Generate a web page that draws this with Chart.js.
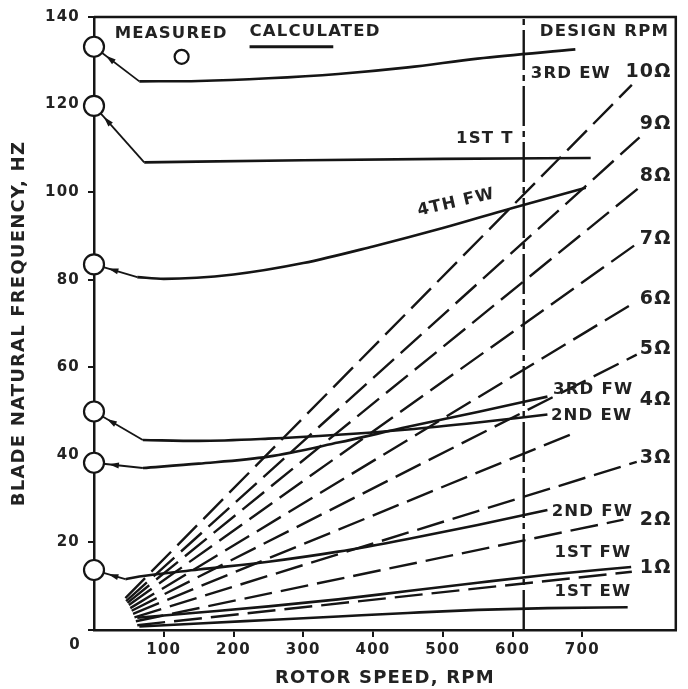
<!DOCTYPE html>
<html>
<head>
<meta charset="utf-8">
<script src="https://cdn.jsdelivr.net/npm/chart.js@4.4.1/dist/chart.umd.min.js"></script>
<style>
  html, body { margin: 0; padding: 0; background: #fff; }
</style>
</head>
<body>
<canvas id="grafico" width="688" height="689"></canvas>
<script>
// frequencias medidas (circulos em rpm 0)
const measuredHz = [133.2, 119.7, 83.5, 49.9, 38.2, 13.7];

// modos calculados
const rpm3rdEW = [65, 150, 250, 350, 450, 550, 690];
const hz3rdEW  = [125.3, 125.4, 126.0, 127.0, 128.5, 130.5, 132.6];
const rpm1stT  = [72, 300, 500, 712];
const hz1stT   = [106.8, 107.3, 107.6, 107.8];
const rpm4thFW = [62, 100, 200, 300, 400, 500, 600, 705];
const hz4thFW  = [80.6, 80.2, 81.2, 83.8, 87.6, 91.8, 96.4, 101.0];
const rpm2ndEW = [70, 150, 250, 350, 450, 550, 650];
const hz2ndEW  = [43.4, 43.2, 43.7, 44.6, 45.8, 47.4, 49.2];
const rpm3rdFW = [70, 150, 250, 350, 450, 550, 650];
const hz3rdFW  = [37.0, 38.0, 39.6, 42.8, 46.4, 49.8, 53.3];
const rpm2ndFW = [45, 65, 150, 250, 350, 450, 550, 650];
const hz2ndFW  = [11.6, 12.2, 13.8, 15.6, 17.9, 20.8, 24.0, 27.4];
const rpm1stFW = [62, 150, 250, 350, 450, 550, 650, 770];
const hz1stFW  = [2.8, 4.0, 5.4, 7.0, 8.9, 10.8, 12.6, 14.4];
const rpm1stEW = [65, 150, 250, 350, 450, 550, 650, 765];
const hz1stEW  = [0.8, 1.5, 2.3, 3.1, 3.9, 4.6, 5.0, 5.2];

// linhas por rotacao (10 ate 1 omega)
const orderLabels   = ['10Ω', '9Ω', '8Ω', '7Ω', '6Ω', '5Ω', '4Ω', '3Ω', '2Ω', '1Ω'];
const orderStartRpm = [45, 46, 48, 50, 52, 54, 56, 58, 60, 62];
const orderStartHz  = [7.3, 6.6, 6.2, 5.7, 5.0, 4.4, 3.7, 2.9, 2.0, 1.1];
const orderEndRpm   = [771, 782, 782, 777, 777, 778, 690, 778, 759, 771];
const orderEndHz    = [124.5, 112.5, 101.1, 88.1, 75.0, 62.9, 45.1, 38.4, 25.2, 13.3];
const orderLabelHz  = [127.4, 115.5, 103.6, 89.2, 75.5, 64.1, 52.6, 39.3, 25.2, 14.2];

const designRpm = 616;

// rotulos dos modos
const modeLabels   = ['3RD EW', '1ST T', '4TH FW', '3RD FW', '2ND EW', '2ND FW', '1ST FW', '1ST EW'];
const modeLabelRpm = [626, 519, 464, 658, 655, 656, 660, 660];
const modeLabelHz  = [127.0, 112.1, 95.6, 54.9, 49.0, 27.0, 17.6, 8.7];
const modeLabelRot = [0, 0, -13, 0, 0, 0, 0, 0];

const xTicks = [100, 200, 300, 400, 500, 600, 700];

const ink = '#151515';
const txt = '#222';
const fonte = 'DejaVu Sans';

function pontos(rpm, hz) {
    return rpm.map((r, i) => ({ x: r, y: hz[i] }));
}

const modos = [
    [rpm3rdEW, hz3rdEW],
    [rpm1stT, hz1stT],
    [rpm4thFW, hz4thFW],
    [rpm2ndEW, hz2ndEW],
    [rpm3rdFW, hz3rdFW],
    [rpm2ndFW, hz2ndFW],
    [rpm1stFW, hz1stFW],
    [rpm1stEW, hz1stEW]
];
// qual modo cada circulo medido aponta
const measuredToMode = [0, 1, 2, 3, 4, 5];

const datasets = [];

// circulos medidos (por cima de tudo)
datasets.push({
    data: measuredHz.map(h => ({ x: 0, y: h })),
    showLine: false,
    pointRadius: 10,
    pointBorderWidth: 2.2,
    pointBackgroundColor: '#fff',
    pointBorderColor: ink,
    clip: false
});

// curvas calculadas
modos.forEach(([r, h]) => {
    datasets.push({
        data: pontos(r, h),
        showLine: true,
        borderColor: ink,
        borderWidth: 2.6,
        pointRadius: 0,
        cubicInterpolationMode: 'monotone'
    });
});

// linhas de chamada dos circulos ate as curvas
measuredHz.forEach((h, i) => {
    const [r, hz] = modos[measuredToMode[i]];
    datasets.push({
        data: [{ x: 0, y: h }, { x: r[0], y: hz[0] }],
        showLine: true,
        borderColor: ink,
        borderWidth: 1.8,
        pointRadius: 0,
        clip: false
    });
});

// linhas tracejadas n-omega
orderLabels.forEach((lab, i) => {
    datasets.push({
        data: [{ x: orderStartRpm[i], y: orderStartHz[i] }, { x: orderEndRpm[i], y: orderEndHz[i] }],
        showLine: true,
        borderColor: ink,
        borderWidth: 2.4,
        borderDash: [28, 9],
        pointRadius: 0
    });
});

// rpm de projeto
datasets.push({
    data: [{ x: designRpm, y: 0 }, { x: designRpm, y: 140 }],
    showLine: true,
    borderColor: ink,
    borderWidth: 2.4,
    borderDash: [40, 5, 6, 5],
    pointRadius: 0
});

const textosPlugin = {
    id: 'textos',
    beforeDraw(chart) {
        chart.ctx.letterSpacing = '1.2px';
    },
    afterDatasetsDraw(chart) {
        // pontas de seta nas linhas de chamada
        const { ctx, scales: { x, y } } = chart;
        ctx.save();
        ctx.fillStyle = ink;
        measuredHz.forEach((h, i) => {
            const [r, hz] = modos[measuredToMode[i]];
            const x0 = x.getPixelForValue(0), y0 = y.getPixelForValue(h);
            const x1 = x.getPixelForValue(r[0]), y1 = y.getPixelForValue(hz[0]);
            const len = Math.hypot(x1 - x0, y1 - y0);
            const ux = (x1 - x0) / len, uy = (y1 - y0) / len;
            const tx = x0 + ux * 15, ty = y0 + uy * 15;
            const bx = x0 + ux * 25, by = y0 + uy * 25;
            ctx.beginPath();
            ctx.moveTo(tx, ty);
            ctx.lineTo(bx - uy * 3, by + ux * 3);
            ctx.lineTo(bx + uy * 3, by - ux * 3);
            ctx.closePath();
            ctx.fill();
        });
        ctx.restore();
    },
    afterDraw(chart) {
        const { ctx, chartArea, scales: { x, y } } = chart;
        ctx.save();
        ctx.letterSpacing = '1.2px';
        ctx.strokeStyle = ink;
        ctx.lineWidth = 2.5;
        // moldura de cima e direita
        ctx.beginPath();
        ctx.moveTo(chartArea.left, chartArea.top);
        ctx.lineTo(chartArea.right, chartArea.top);
        ctx.lineTo(chartArea.right, chartArea.bottom);
        ctx.stroke();

        ctx.fillStyle = txt;
        ctx.textBaseline = 'middle';

        // legenda
        ctx.font = 'bold 16.5px "' + fonte + '"';
        ctx.textAlign = 'left';
        ctx.fillText('MEASURED', x.getPixelForValue(29.6), y.getPixelForValue(136.1));
        ctx.fillText('CALCULATED', x.getPixelForValue(223), y.getPixelForValue(136.6));
        ctx.lineWidth = 3;
        ctx.beginPath();
        ctx.moveTo(x.getPixelForValue(223), y.getPixelForValue(133.2));
        ctx.lineTo(x.getPixelForValue(343), y.getPixelForValue(133.2));
        ctx.stroke();
        ctx.lineWidth = 2.2;
        ctx.beginPath();
        ctx.arc(x.getPixelForValue(125.6), y.getPixelForValue(130.9), 7, 0, Math.PI * 2);
        ctx.stroke();

        ctx.fillText('DESIGN RPM', x.getPixelForValue(639), y.getPixelForValue(136.6));

        // rotulos dos modos
        modeLabels.forEach((t, i) => {
            ctx.save();
            ctx.translate(x.getPixelForValue(modeLabelRpm[i]), y.getPixelForValue(modeLabelHz[i]));
            ctx.rotate(modeLabelRot[i] * Math.PI / 180);
            ctx.fillText(t, 0, 0);
            ctx.restore();
        });

        // rotulos n-omega
        ctx.font = 'bold 19px "' + fonte + '"';
        ctx.textAlign = 'right';
        orderLabels.forEach((t, i) => {
            ctx.fillText(t, x.getPixelForValue(828), y.getPixelForValue(orderLabelHz[i]));
        });

        // zero da origem
        ctx.font = 'bold 15px "' + fonte + '"';
        ctx.textAlign = 'center';
        ctx.fillText('0', x.left - 19, y.bottom + 15);
        ctx.restore();
    }
};

new Chart(document.getElementById('grafico').getContext('2d'), {
    type: 'scatter',
    data: { datasets: datasets },
    options: {
        responsive: false,
        animation: false,
        layout: { padding: { top: 17, right: 3, left: 0, bottom: 0 } },
        plugins: { legend: { display: false }, tooltip: { enabled: false } },
        scales: {
            x: {
                type: 'linear',
                min: 0,
                max: 834,
                afterFit: s => { s.height = 59; },
                afterBuildTicks: s => { s.ticks = xTicks.map(v => ({ value: v })); },
                ticks: {
                    color: txt,
                    font: { family: fonte, size: 15, weight: 'bold' },
                    padding: 4,
                    maxRotation: 0
                },
                grid: { drawOnChartArea: false, color: ink, lineWidth: 2, tickLength: 7 },
                border: { color: ink, width: 2.5 },
                title: {
                    display: true,
                    text: 'ROTOR SPEED, RPM',
                    color: txt,
                    font: { family: fonte, size: 18, weight: 'bold' },
                    padding: { top: 0, bottom: 0 }
                }
            },
            y: {
                min: 0,
                max: 140,
                afterFit: s => { s.width = 94; },
                ticks: {
                    stepSize: 20,
                    color: txt,
                    font: { family: fonte, size: 15, weight: 'bold' },
                    padding: 8,
                    callback: v => (v === 0 ? '' : v)
                },
                grid: { drawOnChartArea: false, color: ink, lineWidth: 2, tickLength: 6 },
                border: { color: ink, width: 2.5 },
                title: {
                    display: true,
                    text: 'BLADE NATURAL FREQUENCY, HZ',
                    color: txt,
                    font: { family: fonte, size: 18, weight: 'bold' },
                    padding: { top: 9, bottom: 0 }
                }
            }
        }
    },
    plugins: [textosPlugin]
});
</script>
</body>
</html>
